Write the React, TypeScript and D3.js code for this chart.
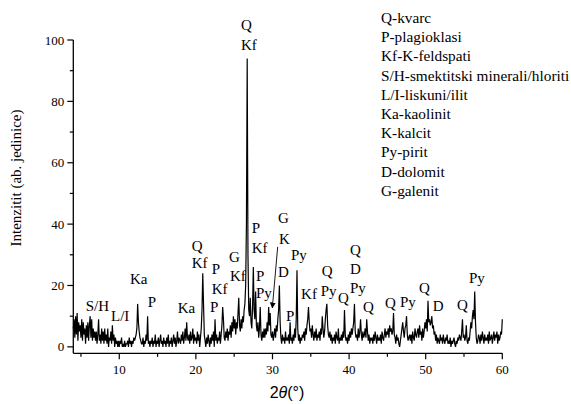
import React, { useRef, useEffect } from 'react';
import * as d3 from 'd3';

// XRD pattern, sampled every 0.1 deg from 4 to 60 (one row per degree)
const twoThetaStart = 4;
const twoThetaStep = 0.1;
const intensity = [
  6, 9, 3, 10, 4, 11, 2, 8, 5, 7, // 4
  3, 9, 2, 8, 4, 6, 1, 7, 3, 8, // 5
  2, 7, 10, 3, 9, 2, 6, 3, 5, 2, // 6
  5, 1, 4, 9, 2, 4, 1, 6, 2, 5, // 7
  1, 6, 2, 4, 1, 6, 0, 3, 2, 5, // 8
  1, 7, 2, 4, 0, 3, 1, 2, 0, 2, // 9
  0, 2, 1, 3, 0, 1, 0, 2, 0, 1, // 10
  1, 2, 0, 3, 1, 2, 0, 2, 1, 3, // 11
  2, 3, 4, 6, 14, 8, 5, 3, 2, 1, // 12
  1, 3, 0, 2, 1, 4, 2, 10, 1, 2, // 13
  0, 2, 1, 3, 0, 2, 1, 4, 0, 2, // 14
  1, 3, 0, 2, 4, 1, 2, 0, 3, 1, // 15
  2, 0, 3, 1, 4, 0, 2, 1, 3, 0, // 16
  2, 4, 1, 3, 0, 2, 5, 1, 3, 2, // 17
  1, 4, 2, 5, 1, 3, 6, 2, 8, 3, // 18
  2, 4, 1, 5, 2, 3, 6, 1, 4, 2, // 19
  3, 1, 5, 2, 4, 0, 3, 6, 12, 24, // 20
  14, 4, 2, 0, 3, 1, 4, 2, 0, 3, // 21
  1, 4, 2, 5, 0, 9, 2, 4, 1, 3, // 22
  2, 5, 1, 4, 7, 13, 9, 3, 2, 5, // 23
  3, 6, 2, 5, 4, 7, 3, 8, 5, 10, // 24
  6, 9, 4, 8, 6, 11, 16, 7, 5, 9, // 25
  6, 10, 8, 12, 14, 20, 40, 94, 30, 12, // 26
  10, 16, 8, 6, 13, 26, 12, 9, 18, 7, // 27
  5, 8, 3, 6, 13, 4, 2, 5, 3, 6, // 28
  3, 6, 4, 8, 5, 13, 7, 11, 4, 3, // 29
  5, 2, 4, 6, 3, 7, 5, 9, 12, 20, // 30
  8, 3, 1, 4, 2, 3, 1, 5, 2, 3, // 31
  2, 4, 1, 8, 2, 3, 1, 4, 2, 6, // 32
  3, 9, 25, 6, 2, 4, 1, 3, 2, 4, // 33
  3, 5, 2, 6, 4, 7, 9, 13, 8, 5, // 34
  6, 3, 7, 4, 2, 5, 3, 6, 2, 4, // 35
  3, 5, 2, 6, 4, 10, 6, 3, 5, 9, // 36
  12, 14, 7, 4, 3, 5, 2, 4, 1, 3, // 37
  2, 4, 1, 5, 3, 2, 6, 1, 3, 2, // 38
  4, 2, 5, 3, 12, 4, 2, 3, 1, 4, // 39
  2, 5, 3, 6, 4, 6, 8, 14, 5, 3, // 40
  4, 2, 6, 3, 5, 9, 4, 2, 5, 3, // 41
  4, 6, 3, 9, 5, 2, 4, 1, 3, 2, // 42
  3, 1, 4, 2, 5, 3, 1, 4, 2, 3, // 43
  2, 4, 1, 5, 3, 2, 4, 6, 3, 5, // 44
  4, 6, 3, 7, 5, 6, 4, 5, 11, 4, // 45
  3, 1, 4, 2, 3, 1, 0, 2, 4, 6, // 46
  8, 5, 3, 6, 7, 10, 4, 2, 3, 4, // 47
  2, 4, 1, 5, 3, 2, 6, 4, 3, 5, // 48
  6, 3, 7, 4, 5, 2, 6, 3, 5, 8, // 49
  6, 9, 5, 15, 8, 9, 7, 8, 10, 6, // 50
  7, 4, 5, 2, 4, 1, 3, 2, 1, 4, // 51
  2, 3, 1, 4, 2, 1, 3, 2, 4, 1, // 52
  2, 1, 3, 0, 2, 1, 2, 3, 1, 0, // 53
  2, 1, 3, 2, 4, 3, 2, 5, 9, 3, // 54
  4, 2, 3, 7, 2, 1, 3, 2, 5, 8, // 55
  6, 10, 12, 9, 18, 8, 3, 1, 2, 4, // 56
  3, 1, 4, 2, 5, 3, 1, 4, 2, 3, // 57
  2, 4, 1, 5, 2, 3, 4, 1, 3, 5, // 58
  2, 4, 3, 5, 1, 4, 2, 3, 5, 4, // 59
  9, // 60
];

const xTicks = [10, 20, 30, 40, 50, 60];
const xMinorTicks = [5, 15, 25, 35, 45, 55];
const yTicks = [0, 20, 40, 60, 80, 100];
const yMinorTicks = [10, 30, 50, 70, 90];

const legendItems = [
  'Q-kvarc',
  'P-plagioklasi',
  'Kf-K-feldspati',
  'S/H-smektitski minerali/hloriti',
  'L/I-liskuni/ilit',
  'Ka-kaolinit',
  'K-kalcit',
  'Py-pirit',
  'D-dolomit',
  'G-galenit',
];

// phase labels, anchored at (2theta, intensity) of their left baseline
const peakLabels = [
  { text: 'S/H', tt: 5.62, i: 11.7 },
  { text: 'L/I', tt: 8.92, i: 8.4 },
  { text: 'Ka', tt: 11.4, i: 20.5 },
  { text: 'P', tt: 13.71, i: 13.1 },
  { text: 'Ka', tt: 17.63, i: 11.0 },
  { text: 'Q', tt: 19.46, i: 31.2 },
  { text: 'Kf', tt: 19.46, i: 25.7 },
  { text: 'P', tt: 22.07, i: 23.7 },
  { text: 'Kf', tt: 22.07, i: 17.2 },
  { text: 'P', tt: 21.84, i: 11.4 },
  { text: 'G', tt: 24.32, i: 27.7 },
  { text: 'Kf', tt: 24.45, i: 21.5 },
  { text: 'Q', tt: 25.89, i: 103.3 },
  { text: 'Kf', tt: 25.89, i: 96.8 },
  { text: 'P', tt: 27.29, i: 37.1 },
  { text: 'Kf', tt: 27.29, i: 30.6 },
  { text: 'P', tt: 27.85, i: 21.5 },
  { text: 'Py', tt: 27.85, i: 15.9 },
  { text: 'G', tt: 30.72, i: 40.4 },
  { text: 'K', tt: 30.85, i: 33.5 },
  { text: 'D', tt: 30.72, i: 22.8 },
  { text: 'P', tt: 31.77, i: 8.4 },
  { text: 'Py', tt: 32.42, i: 28.3 },
  { text: 'Kf', tt: 33.73, i: 15.6 },
  { text: 'Q', tt: 36.43, i: 23.1 },
  { text: 'Py', tt: 36.3, i: 16.6 },
  { text: 'Q', tt: 38.55, i: 14.3 },
  { text: 'Q', tt: 40.12, i: 29.9 },
  { text: 'D', tt: 40.12, i: 23.7 },
  { text: 'Py', tt: 40.12, i: 17.6 },
  { text: 'Q', tt: 41.82, i: 11.4 },
  { text: 'Q', tt: 44.69, i: 12.7 },
  { text: 'Py', tt: 46.65, i: 13.0 },
  { text: 'Q', tt: 49.13, i: 17.6 },
  { text: 'D', tt: 50.92, i: 11.7 },
  { text: 'Q', tt: 54.09, i: 12.0 },
  { text: 'Py', tt: 55.65, i: 20.8 },
];

const arrowFrom = [30.68, 32.6];
const arrowTo = [29.98, 12.7];

const W = 571;
const H = 404;
const SERIF = "'Times New Roman', 'Liberation Serif', 'DejaVu Serif', serif";

const App = () => {
  const svgRef = useRef(null);

  useEffect(() => {
    document.body.style.margin = '0';
    const svg = d3.select(svgRef.current)
      .attr('width', W)
      .attr('height', H)
      .style('font-family', SERIF)
      .style('display', 'block')
      .style('background', '#fff');

    svg.selectAll('*').remove();

    const x = d3.scaleLinear().domain([4, 60]).range([73.3, 502.3]);
    const y = d3.scaleLinear().domain([-2.1, 100]).range([353.3, 40]);

    const data = intensity.map((v, k) => [twoThetaStart + k * twoThetaStep, v]);

    // pattern
    const line = d3.line()
      .x(d => x(d[0]))
      .y(d => y(d[1]));

    svg.append('path')
      .datum(data)
      .attr('d', line)
      .attr('fill', 'none')
      .attr('stroke', '#000')
      .attr('stroke-width', 1.2)
      .attr('stroke-linejoin', 'miter');

    // axes
    const xAxis = svg.append('g').attr('transform', `translate(0, ${y(-2.1)})`);
    xAxis.append('line')
      .attr('x1', x(4)).attr('x2', x(60))
      .attr('stroke', '#000').attr('stroke-width', 1.3);
    xAxis.selectAll('.maj')
      .data(xTicks).enter().append('line')
      .attr('x1', d => x(d)).attr('x2', d => x(d))
      .attr('y1', 0).attr('y2', 6)
      .attr('stroke', '#000').attr('stroke-width', 1.2);
    xAxis.selectAll('.min')
      .data(xMinorTicks).enter().append('line')
      .attr('x1', d => x(d)).attr('x2', d => x(d))
      .attr('y1', 0).attr('y2', 3.5)
      .attr('stroke', '#000').attr('stroke-width', 1.2);
    xAxis.selectAll('text')
      .data(xTicks).enter().append('text')
      .attr('x', d => x(d)).attr('y', 21)
      .attr('text-anchor', 'middle')
      .style('font-size', '13px')
      .text(d => d);

    const yAxis = svg.append('g').attr('transform', `translate(${x(4)}, 0)`);
    yAxis.append('line')
      .attr('y1', y(-2.1)).attr('y2', y(100))
      .attr('stroke', '#000').attr('stroke-width', 1.3);
    yAxis.selectAll('.maj')
      .data(yTicks).enter().append('line')
      .attr('y1', d => y(d)).attr('y2', d => y(d))
      .attr('x1', 0).attr('x2', -6)
      .attr('stroke', '#000').attr('stroke-width', 1.2);
    yAxis.selectAll('.min')
      .data(yMinorTicks).enter().append('line')
      .attr('y1', d => y(d)).attr('y2', d => y(d))
      .attr('x1', 0).attr('x2', -3.5)
      .attr('stroke', '#000').attr('stroke-width', 1.2);
    yAxis.selectAll('text')
      .data(yTicks).enter().append('text')
      .attr('x', -9).attr('y', d => y(d) + 4.5)
      .attr('text-anchor', 'end')
      .style('font-size', '13px')
      .text(d => d);

    // axis titles
    svg.append('text')
      .attr('transform', 'translate(21, 178) rotate(-90)')
      .attr('text-anchor', 'middle')
      .style('font-size', '15px')
      .text('Intenzitit (ab. jedinice)');

    const xt = svg.append('text')
      .attr('x', 287).attr('y', 398)
      .attr('text-anchor', 'middle')
      .style('font-family', "'Liberation Sans', Arial, sans-serif")
      .style('font-size', '16px');
    xt.append('tspan').text('2');
    xt.append('tspan').style('font-style', 'italic').text('θ');
    xt.append('tspan').text('(°)');

    // peak labels
    svg.selectAll('.peak')
      .data(peakLabels).enter().append('text')
      .attr('x', d => x(d.tt)).attr('y', d => y(d.i))
      .style('font-size', '15px')
      .text(d => d.text);

    // arrow
    svg.append('defs').append('marker')
      .attr('id', 'ah')
      .attr('viewBox', '0 0 10 10')
      .attr('refX', 9).attr('refY', 5)
      .attr('markerWidth', 6).attr('markerHeight', 6)
      .attr('markerUnits', 'userSpaceOnUse')
      .attr('orient', 'auto')
      .append('path').attr('d', 'M0,0 L10,5 L0,10 z').attr('fill', '#000');
    svg.append('line')
      .attr('x1', x(arrowFrom[0])).attr('y1', y(arrowFrom[1]))
      .attr('x2', x(arrowTo[0])).attr('y2', y(arrowTo[1]))
      .attr('stroke', '#000').attr('stroke-width', 0.9)
      .attr('marker-end', 'url(#ah)');

    // legend
    svg.selectAll('.leg')
      .data(legendItems).enter().append('text')
      .attr('x', 381).attr('y', (d, k) => 23 + k * 19.2)
      .style('font-size', '15.3px')
      .text(d => d);
  }, []);

  return <svg ref={svgRef}></svg>;
};

export default App;
